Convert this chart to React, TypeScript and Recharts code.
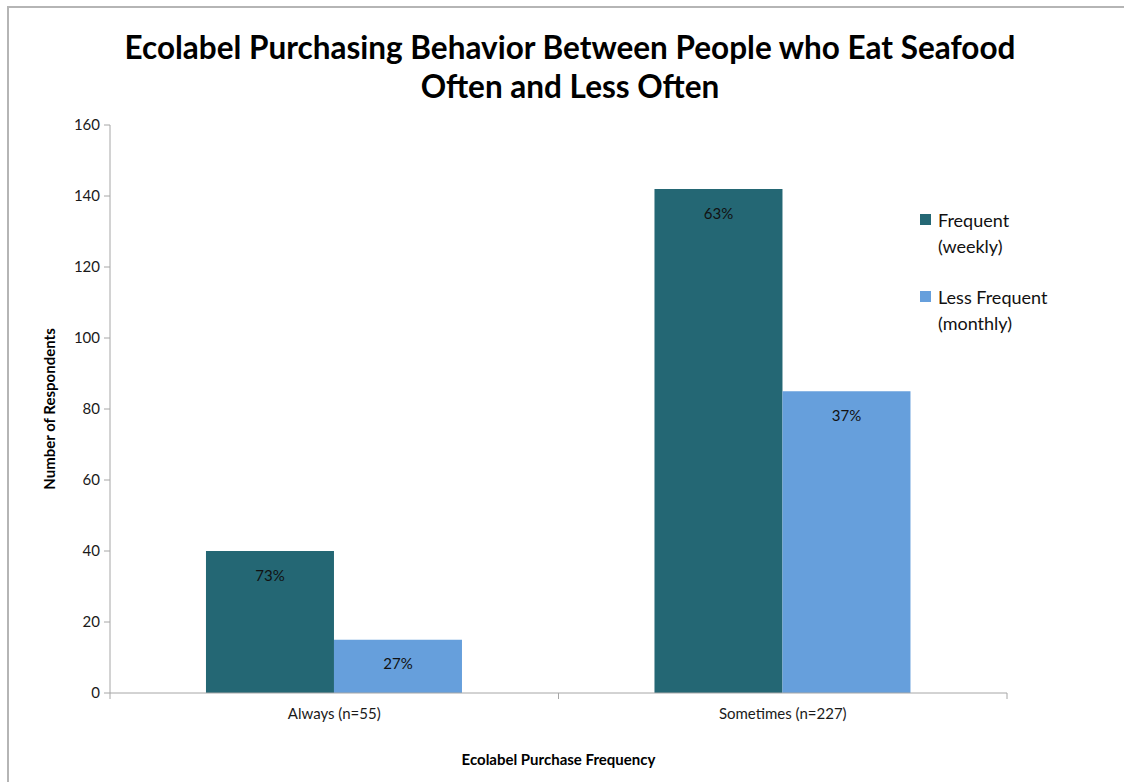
import React from 'react';
import { Bar, BarChart, LabelList, XAxis, YAxis, Label } from 'recharts';

const categories = ['Always (n=55)', 'Sometimes (n=227)'];
const frequent = [40, 142];
const lessFrequent = [15, 85];
const frequentPct = ['73%', '63%'];
const lessFrequentPct = ['27%', '37%'];
const yTicks = [0, 20, 40, 60, 80, 100, 120, 140, 160];
const legendItems = [
  { key: 'frequent', lines: ['Frequent', '(weekly)'] },
  { key: 'lessFrequent', lines: ['Less Frequent', '(monthly)'] }
];

const data = categories.map((name, i) => ({
  name,
  frequent: frequent[i],
  lessFrequent: lessFrequent[i],
  frequentPct: frequentPct[i],
  lessFrequentPct: lessFrequentPct[i]
}));

const FONT = 'Lato, "Open Sans", sans-serif';
const DARK = '#246774';
const LIGHT = '#669fdc';
const AXIS = '#a6a6a6';
const colors: Record<string, string> = { frequent: DARK, lessFrequent: LIGHT };

const XTick = (props: any) => {
  const { x, y, payload } = props;
  const off = payload.offset || 0;
  return (
    <g>
      <line x1={x - off} y1={y - 8} x2={x - off} y2={y - 2} stroke={AXIS} />
      <line x1={x + off} y1={y - 8} x2={x + off} y2={y - 2} stroke={AXIS} />
      <text x={x} y={y + 18} textAnchor="middle" fontSize={15} fill="#1a1a1a" fontFamily={FONT}>
        {payload.value}
      </text>
    </g>
  );
};

const LegendBox = () => (
  <div
    style={{
      position: 'absolute',
      left: 920,
      top: 207,
      fontFamily: FONT,
      fontSize: 18,
      color: '#111'
    }}
  >
    {legendItems.map((it) => (
      <div key={it.key} style={{ display: 'flex', marginBottom: 25 }}>
        <div style={{ width: 11, height: 11, background: colors[it.key], marginTop: 7, marginRight: 7 }} />
        <div style={{ lineHeight: '26px' }}>
          {it.lines[0]}
          <br />
          {it.lines[1]}
        </div>
      </div>
    ))}
  </div>
);

const App = () => {
  return (
    <div style={{ position: 'absolute', left: 0, top: 0, width: 1124, height: 782, background: '#fff' }}>
      <div
        style={{
          position: 'absolute',
          left: 7,
          top: 6,
          right: 0,
          bottom: 0,
          borderTop: '2px solid #b5b5b5',
          borderLeft: '2px solid #b5b5b5'
        }}
      />
      <div
        style={{
          position: 'absolute',
          left: 0,
          top: 28,
          width: 1140,
          textAlign: 'center',
          fontFamily: FONT,
          fontWeight: 'bold',
          fontSize: 31.5,
          lineHeight: '39px',
          color: '#000'
        }}
      >
        Ecolabel Purchasing Behavior Between People who Eat Seafood
        <br />
        Often and Less Often
      </div>
      <BarChart
        width={1124}
        height={782}
        data={data}
        margin={{ top: 125, right: 117, left: 50, bottom: 59 }}
        barCategoryGap="21.4%"
        barGap={0}
        style={{ position: 'absolute', left: 0, top: 0 }}
      >
        <XAxis
          dataKey="name"
          stroke={AXIS}
          tickLine={false}
          tick={<XTick />}
          height={30}
        >
          <Label
            value="Ecolabel Purchase Frequency"
            position="insideBottom"
            offset={-42}
            style={{ fontFamily: FONT, fontWeight: 'bold', fontSize: 15, fill: '#000' }}
          />
        </XAxis>
        <YAxis
          domain={[0, 160]}
          ticks={yTicks}
          stroke={AXIS}
          tickSize={6}
          width={60}
          tick={{ fontSize: 15, fill: '#1a1a1a', fontFamily: FONT }}
          tickMargin={4}
        >
          <Label
            value="Number of Respondents"
            angle={-90}
            position="insideLeft"
            offset={0}
            style={{ textAnchor: 'middle', fontFamily: FONT, fontWeight: 'bold', fontSize: 15, fill: '#000' }}
          />
        </YAxis>
        <Bar dataKey="frequent" name="Frequent (weekly)" fill={DARK} isAnimationActive={false}>
          <LabelList dataKey="frequentPct" position="insideTop" offset={19} fill="#111" fontSize={15} fontFamily={FONT} />
        </Bar>
        <Bar dataKey="lessFrequent" name="Less Frequent (monthly)" fill={LIGHT} isAnimationActive={false}>
          <LabelList dataKey="lessFrequentPct" position="insideTop" offset={19} fill="#111" fontSize={15} fontFamily={FONT} />
        </Bar>
      </BarChart>
      <LegendBox />
    </div>
  );
};

export default App;
